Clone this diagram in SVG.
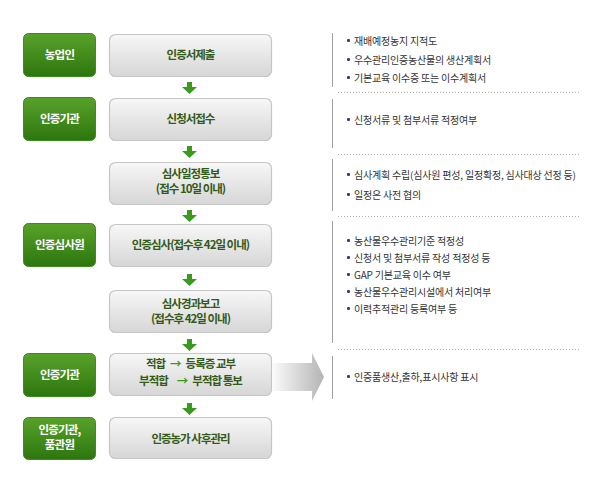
<svg xmlns="http://www.w3.org/2000/svg" width="600" height="485" viewBox="0 0 600 485">
<defs>
<linearGradient id="gGreen" x1="0" y1="0" x2="0" y2="1">
<stop offset="0" stop-color="#58a22a"/>
<stop offset="1" stop-color="#2d760e"/>
</linearGradient>
<linearGradient id="gGray" x1="0" y1="0" x2="0" y2="1">
<stop offset="0" stop-color="#f7f7f7"/>
<stop offset="1" stop-color="#d6d6d6"/>
</linearGradient>
<linearGradient id="gBig" x1="0" y1="0" x2="1" y2="0">
<stop offset="0" stop-color="#fafafa"/>
<stop offset="1" stop-color="#b4b4b4"/>
</linearGradient>
<path id="dn" d="M-2.5,0 H2.5 V5 H7.5 L0,12 L-7.5,5 H-2.5 Z" fill="#3a9a1e"/>
</defs>
<style>
.gb{fill:url(#gGreen);stroke:#3d8c1e;stroke-width:1}
.bx{fill:url(#gGray);stroke:#c6c6c6;stroke-width:1.2}
.gt{font-family:"Noto Sans CJK KR","Noto Sans",sans-serif;font-size:11.5px;font-weight:bold;fill:#ffffff;text-anchor:middle;letter-spacing:-0.8px}
.bt{font-family:"Noto Sans CJK KR","Noto Sans",sans-serif;font-size:11.5px;font-weight:bold;fill:#335a18;text-anchor:middle;letter-spacing:-1px}
.ga{fill:#3a9a1e;letter-spacing:0}
.rt{font-family:"Noto Sans CJK KR","Noto Sans",sans-serif;font-size:10px;fill:#333333;letter-spacing:-0.2px}
.bul{fill:#3a3a96}
.vl{stroke:#a0a0a0;stroke-width:1}
.dl{stroke:#b0b0b0;stroke-width:1;stroke-dasharray:1,2}
</style>
<rect width="600" height="485" fill="#ffffff"/>

<g id="role1"><rect class="gb" x="23.5" y="33.5" width="72" height="43" rx="5"/><text class="gt" x="59.5" y="59">농업인</text></g>
<g id="role2"><rect class="gb" x="23.5" y="97.5" width="72" height="43" rx="5"/><text class="gt" x="59.5" y="123">인증기관</text></g>
<g id="role3"><rect class="gb" x="23.5" y="223.5" width="72" height="43" rx="5"/><text class="gt" x="59.5" y="249">인증심사원</text></g>
<g id="role4"><rect class="gb" x="23.5" y="353.5" width="72" height="43" rx="5"/><text class="gt" x="59.5" y="379">인증기관</text></g>
<g id="role5"><rect class="gb" x="23.5" y="417.5" width="72" height="42" rx="5"/><text class="gt" x="59.5" y="434">인증기관,</text><text class="gt" x="59.5" y="449">품관원</text></g>

<g id="step1"><rect class="bx" x="109.5" y="34.5" width="162" height="42" rx="6"/><text class="bt" x="190.5" y="59">인증서제출</text></g>
<g id="step2"><rect class="bx" x="109.5" y="98.5" width="162" height="42" rx="6"/><text class="bt" x="190.5" y="123">신청서접수</text></g>
<g id="step3"><rect class="bx" x="109.5" y="162.5" width="162" height="42" rx="6"/><text class="bt" x="190.5" y="178">심사일정통보</text><text class="bt" x="190.5" y="193">(접수 10일 이내)</text></g>
<g id="step4"><rect class="bx" x="109.5" y="224.5" width="162" height="42" rx="6"/><text class="bt" x="190.5" y="249">인증심사(접수후 42일 이내)</text></g>
<g id="step5"><rect class="bx" x="109.5" y="290.5" width="162" height="42" rx="6"/><text class="bt" x="190.5" y="308">심사경과보고</text><text class="bt" x="190.5" y="323">(접수후 42일 이내)</text></g>
<g id="step6"><rect class="bx" x="109.5" y="353.5" width="162" height="42" rx="6"/><text class="bt" x="190.5" y="368">적합<tspan class="ga" dx="5">→</tspan><tspan dx="4">등록증 교부</tspan></text><text class="bt" x="190.5" y="385">부적합<tspan class="ga" dx="9">→</tspan><tspan dx="4">부적합 통보</tspan></text></g>
<g id="step7"><rect class="bx" x="109.5" y="417.5" width="162" height="41" rx="6"/><text class="bt" x="190.5" y="443">인증농가 사후관리</text></g>

<g id="connectors">
<use href="#dn" x="189.5" y="82"/>
<use href="#dn" x="189.5" y="146"/>
<use href="#dn" x="189.5" y="210"/>
<use href="#dn" x="189.5" y="274"/>
<use href="#dn" x="189.5" y="339"/>
<use href="#dn" x="189.5" y="403"/>
<path d="M273,363 H312 V353 L324,377 L312,401 V391 H273 Z" fill="url(#gBig)"/>
</g>

<g id="notes">
<line class="vl" x1="332.5" y1="33" x2="332.5" y2="87"/>
<line class="dl" x1="338" y1="92.5" x2="580" y2="92.5"/>
<line class="vl" x1="332.5" y1="99" x2="332.5" y2="148"/>
<line class="dl" x1="338" y1="154.5" x2="580" y2="154.5"/>
<line class="vl" x1="332.5" y1="159" x2="332.5" y2="211"/>
<line class="dl" x1="338" y1="216.5" x2="580" y2="216.5"/>
<line class="vl" x1="332.5" y1="221" x2="332.5" y2="343"/>
<line class="dl" x1="338" y1="349.5" x2="580" y2="349.5"/>
<line class="vl" x1="332.5" y1="356" x2="332.5" y2="399"/>

<rect class="bul" x="347" y="39" width="3" height="3" rx="1"/><text class="rt" x="354" y="45">재배예정농지 지적도</text>
<rect class="bul" x="347" y="58" width="3" height="3" rx="1"/><text class="rt" x="354" y="64">우수관리인증농산물의 생산계획서</text>
<rect class="bul" x="347" y="76" width="3" height="3" rx="1"/><text class="rt" x="354" y="82">기본교육 이수증 또는 이수계획서</text>

<rect class="bul" x="347" y="118" width="3" height="3" rx="1"/><text class="rt" x="354" y="124">신청서류 및 첨부서류 적정여부</text>

<rect class="bul" x="347" y="173" width="3" height="3" rx="1"/><text class="rt" x="354" y="179">심사계획 수립(심사원 편성, 일정확정, 심사대상 선정 등)</text>
<rect class="bul" x="347" y="193" width="3" height="3" rx="1"/><text class="rt" x="354" y="199">일정은 사전 협의</text>

<rect class="bul" x="347" y="239" width="3" height="3" rx="1"/><text class="rt" x="354" y="245">농산물우수관리기준 적정성</text>
<rect class="bul" x="347" y="256" width="3" height="3" rx="1"/><text class="rt" x="354" y="262">신청서 및 첨부서류 작성 적정성 등</text>
<rect class="bul" x="347" y="273" width="3" height="3" rx="1"/><text class="rt" x="354" y="279">GAP 기본교육 이수 여부</text>
<rect class="bul" x="347" y="290" width="3" height="3" rx="1"/><text class="rt" x="354" y="296">농산물우수관리시설에서 처리여부</text>
<rect class="bul" x="347" y="307" width="3" height="3" rx="1"/><text class="rt" x="354" y="313">이력추적관리 등록여부 등</text>

<rect class="bul" x="347" y="375" width="3" height="3" rx="1"/><text class="rt" x="354" y="381">인증품생산,출하,표시사항 표시</text>
</g>
</svg>
